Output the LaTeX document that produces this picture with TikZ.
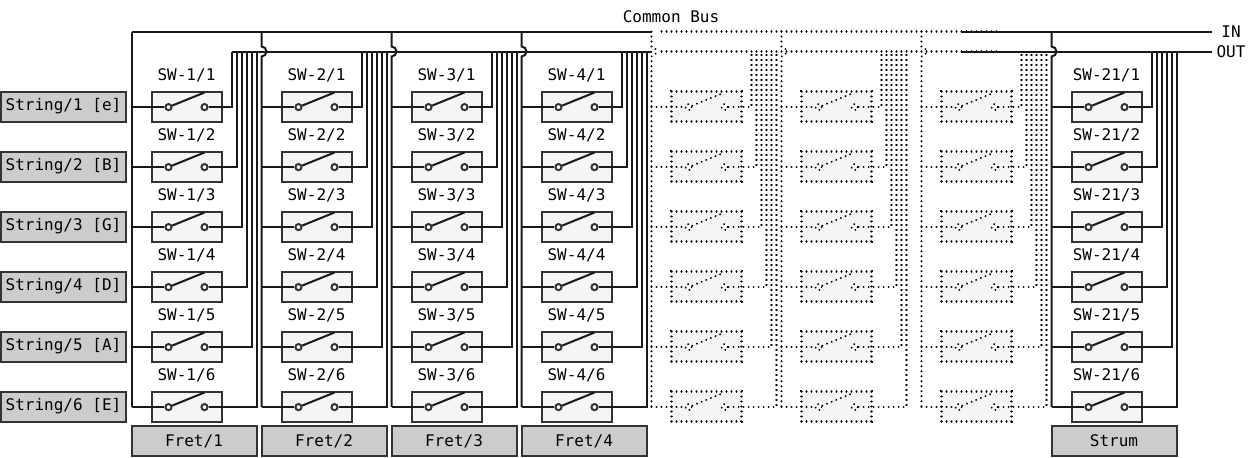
\documentclass[tikz,border=0pt]{standalone}
\usepackage{fontspec}
\setmainfont{DejaVu Sans Mono}
\definecolor{edge}{HTML}{333333}
\definecolor{tag}{HTML}{CCCCCC}
\definecolor{swfill}{HTML}{F5F5F5}
\tikzset{
    wire/.style={draw=black!90,line width=1.5pt},
    faint/.style={draw=black,line width=1.6pt,line cap=round,dash pattern=on 0.01pt off 3.74pt},
    tagbox/.style={draw=edge,line width=1.5pt,fill=tag,inner sep=0pt,font=\fontsize{12}{14}\selectfont},
    swbox/.style={fill=swfill,minimum width=52.5pt,minimum height=22.5pt,inner sep=0pt},
    contact/.style={circle,fill=white,minimum size=4.6pt,inner sep=0pt},
    txt/.style={inner sep=0pt,font=\fontsize{12}{14}\selectfont},
}
% one column of six switches: number, bus x, line look, box outline
\newcommand{\fretcol}[4]{
    \coordinate (in-#1) at (#2,31.5);
    \coordinate (hopa-#1) at (#2,46.5);
    \coordinate (hopb-#1) at (#2,56.5);
    \foreach \r in {1,...,6} {
        \pgfmathsetmacro{\ry}{106.5+60*(\r-1)}
        \pgfmathsetmacro{\tx}{#2+100+5*(\r-1)}
        \node[swbox,#4] (sw-#1-\r) at ({#2+55},\ry) {};
        \node[contact,#4] (a-#1-\r) at ({#2+37},{\ry+0.6}) {};
        \node[contact,#4] (b-#1-\r) at ({#2+73},{\ry+0.6}) {};
        \coordinate (lever-#1-\r) at ({#2+73},{\ry-14});
        \coordinate (bus-#1-\r) at (#2,{\ry+0.6});
        \coordinate (tail-#1-\r) at (\tx,{\ry+0.6});
        \coordinate (top-#1-\r) at (\tx,51.5);
        \draw[#3] (bus-#1-\r) -- (a-#1-\r);
        \draw[#3] (a-#1-\r) -- (lever-#1-\r);
        \draw[#3] (b-#1-\r) -- (tail-#1-\r) -- (top-#1-\r);
    }
    \ifnum#1>1
        \draw[#3] (in-#1) -- (hopa-#1) arc[start angle=-90,end angle=90,radius=5] -- (bus-#1-6);
    \else
        \draw[#3] (in-#1) -- (bus-#1-6);
    \fi
}

\begin{document}
\begin{tikzpicture}[x=0.75pt,y=-0.75pt]
    \useasboundingbox (0,0) rectangle (1253,457);
    % switches
    \foreach \c/\bx in {1/131.5,2/261.5,3/391.5,4/521.5,8/1051.5} {
        \fretcol{\c}{\bx}{wire}{draw=edge,line width=1.5pt}
    }
    \foreach \c/\bx in {5/651.5,6/781.5,7/921.5} {
        \fretcol{\c}{\bx}{faint}{faint}
    }
    % bus lines
    \coordinate (in-stop) at (652,31.5);
    \coordinate (in-dots) at (661.5,31.5);
    \coordinate (in-dote) at (1000,31.5);
    \coordinate (in-back) at (961,31.5);
    \coordinate (in-end) at (1211.5,31.5);
    \coordinate (out-stop) at (652,51.5);
    \coordinate (out-dots) at (661.5,51.5);
    \coordinate (out-dote) at (1000,51.5);
    \coordinate (out-back) at (961,51.5);
    \coordinate (out-end) at (1211.5,51.5);
    \draw[wire] (in-1) -- (in-stop);
    \draw[wire] (top-1-1) -- (out-stop);
    \draw[faint] (in-dots) -- (in-dote);
    \draw[faint] (out-dots) -- (out-dote);
    \draw[wire] (in-back) -- (in-end);
    \draw[wire] (out-back) -- (out-end);
    % texts
    \node[txt] (title) at (671,17) {Common Bus};
    \node[txt] (inlabel) at (1231,32) {IN};
    \node[txt] (outlabel) at (1231,52) {OUT};
    \foreach \r/\n in {1/e,2/B,3/G,4/D,5/A,6/E} {
        \pgfmathsetmacro{\ry}{106.5+60*(\r-1)}
        \node[tagbox,minimum width=93.75pt,minimum height=22.5pt] (string-\r) at (63.5,\ry) {String/\r{} [\n]};
    }
    \foreach \c/\bx/\nr in {1/131.5/1,2/261.5/2,3/391.5/3,4/521.5/4,8/1051.5/21} {
        \foreach \r in {1,...,6} {
            \node[txt,above=6.3pt] (name-\c-\r) at (sw-\c-\r.north) {SW-\nr/\r};
        }
    }
    \foreach \c/\bx in {1/131.5,2/261.5,3/391.5,4/521.5} {
        \node[tagbox,minimum width=93.75pt,minimum height=22.5pt] (fret-\c) at ({\bx+62.5},441) {Fret/\c};
    }
    \node[tagbox,minimum width=93.75pt,minimum height=22.5pt] (strum) at (1114,441) {Strum};
\end{tikzpicture}
\end{document}
